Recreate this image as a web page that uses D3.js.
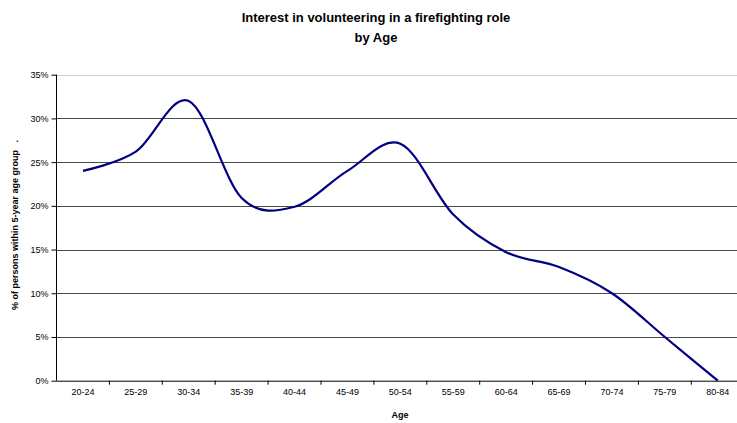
<!DOCTYPE html>
<html>
<head>
<meta charset="utf-8">
<script src="https://cdn.jsdelivr.net/npm/d3@7"></script>
<style>
  body { margin: 0; background: #fff; }
  svg { display: block; font-family: "Liberation Sans", Arial, sans-serif; }
</style>
</head>
<body>
<svg id="chart" width="737" height="423"></svg>
<script>
  // age groups and share of persons interested (%)
  var ageGroups = ['20-24', '25-29', '30-34', '35-39', '40-44', '45-49', '50-54',
                   '55-59', '60-64', '65-69', '70-74', '75-79', '80-84'];
  var interest = [24, 26.2, 32, 20.9, 19.9, 24, 27.1, 19, 14.7, 13, 10, 5, 0];
  var yTicks = [0, 5, 10, 15, 20, 25, 30, 35];

(function () {
  'use strict';
  var svg = d3.select('#chart');
  var plotLeft = 56.5, plotTop = 74.7, plotBottom = 380.7, band = 52.9;

  var x = d3.scaleBand()
    .domain(ageGroups)
    .range([plotLeft, plotLeft + band * ageGroups.length]);
  var y = d3.scaleLinear().domain([0, 35]).range([plotBottom, plotTop]);

  // gridlines
  svg.append('g').selectAll('line')
    .data(yTicks.slice(1))
    .enter().append('line')
    .attr('x1', plotLeft).attr('x2', 737)
    .attr('y1', function(d) { return Math.round(y(d)) + 0.5; })
    .attr('y2', function(d) { return Math.round(y(d)) + 0.5; })
    .attr('stroke', function(d) { return d === 35 ? '#d0d0d0' : '#4a4a4a'; })
    .attr('stroke-width', 1);

  // y axis
  var yAxis = svg.append('g')
    .attr('transform', 'translate(' + plotLeft + ',0)')
    .call(d3.axisLeft(y).tickValues(yTicks).tickSize(5).tickPadding(3)
      .tickFormat(function(d) { return d + '%'; }));
  yAxis.select('.domain').attr('d', 'M0,' + plotTop + 'V' + plotBottom).attr('stroke', '#000');
  yAxis.selectAll('text').attr('font-size', 9).attr('fill', '#000')
    .attr('font-family', '"Liberation Sans", Arial, sans-serif');

  // x axis, ticks between categories
  var xAxis = svg.append('g')
    .attr('transform', 'translate(0,' + plotBottom + ')');
  xAxis.append('line')
    .attr('x1', plotLeft).attr('x2', 737).attr('y1', 0.5).attr('y2', 0.5)
    .attr('stroke', '#000');
  xAxis.selectAll('.tk')
    .data(ageGroups.slice(1))
    .enter().append('line')
    .attr('class', 'tk')
    .attr('x1', function(d) { return x(d); })
    .attr('x2', function(d) { return x(d); })
    .attr('y1', 0).attr('y2', 4)
    .attr('stroke', '#000');
  xAxis.selectAll('text')
    .data(ageGroups)
    .enter().append('text')
    .attr('x', function(d) { return x(d) + x.bandwidth() / 2; })
    .attr('y', 14)
    .attr('text-anchor', 'middle')
    .attr('font-size', 9)
    .text(function(d) { return d; });

  // the line
  var line = d3.line()
    .x(function(d, i) { return x(ageGroups[i]) + x.bandwidth() / 2; })
    .y(function(d) { return y(d); })
    .curve(d3.curveCatmullRom.alpha(0));

  svg.append('path')
    .datum(interest)
    .attr('d', line)
    .attr('fill', 'none')
    .attr('stroke', '#000080')
    .attr('stroke-width', 2.2);

  // titles
  var title = svg.append('text')
    .attr('x', 376).attr('text-anchor', 'middle')
    .attr('font-size', 13).attr('font-weight', 'bold');
  title.append('tspan').attr('x', 376).attr('y', 22)
    .text('Interest in volunteering in a firefighting role');
  title.append('tspan').attr('x', 376).attr('y', 42).text('by Age');

  svg.append('text')
    .attr('x', 400).attr('y', 418)
    .attr('text-anchor', 'middle')
    .attr('font-size', 9).attr('font-weight', 'bold')
    .text('Age');

  svg.append('text')
    .attr('transform', 'translate(18,225) rotate(-90)')
    .attr('text-anchor', 'middle')
    .attr('font-size', 9).attr('font-weight', 'bold')
    .text('% of persons within 5-year age group\u00a0\u00a0\u00a0.');
})();
</script>
</body>
</html>
